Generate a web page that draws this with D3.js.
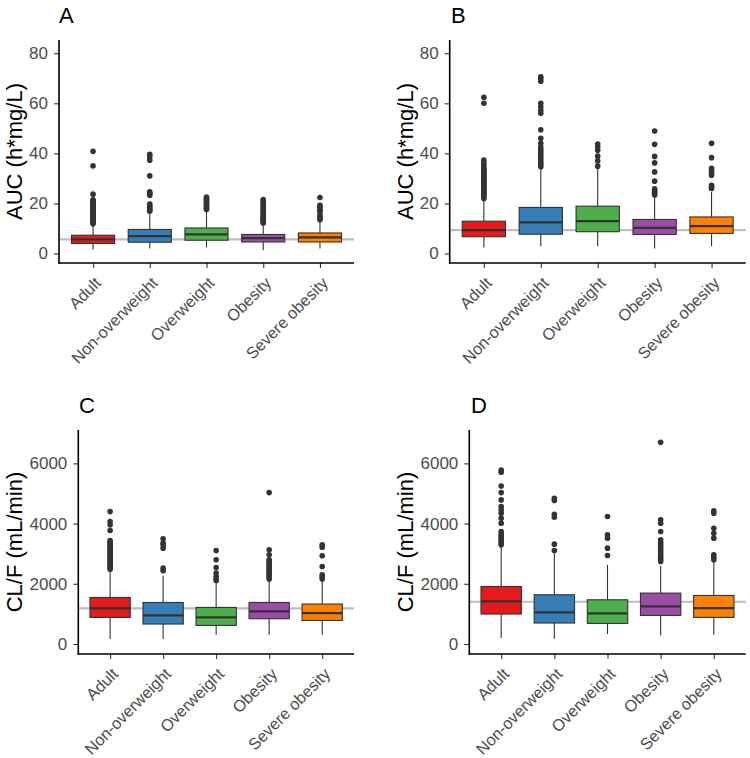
<!DOCTYPE html>
<html>
<head>
<meta charset="utf-8">
<script src="https://cdn.jsdelivr.net/npm/d3@7"></script>
<style>
  body { margin: 0; background: #fff; }
  svg { display: block; font-family: Arial, "Liberation Sans", Helvetica, sans-serif; }
</style>
</head>
<body>
<svg id="chart" width="750" height="758"></svg>
<script>
// ---------------- DATA ----------------
const categories = ["Adult", "Non-overweight", "Overweight", "Obesity", "Severe obesity"];
const groupColors = ["#E41A1C", "#377EB8", "#4DAF4A", "#984EA3", "#FF7F00"];

// box stats per category: [whiskerLow, Q1, median, Q3, whiskerHigh]
const aucA_stats = [
  [1.6, 4.0, 5.6, 7.3, 11.5],
  [2.0, 4.5, 6.9, 9.6, 16.4],
  [2.4, 5.3, 7.6, 10.2, 17.3],
  [1.3, 4.6, 6.1, 7.6, 11.8],
  [2.0, 4.6, 6.4, 8.2, 13.0]
];
const aucA_outliers = [
  [11.9, 12.3, 12.7, 13.1, 13.5, 13.9, 14.3, 14.7, 15.1, 15.5, 15.9, 16.3, 16.7, 17.1, 17.5, 17.9, 18.3, 18.7, 19.1, 19.5, 19.9, 20.3, 20.7, 21.1, 21.5, 23.7, 35.0, 40.8],
  [16.9, 17.4, 17.9, 18.5, 19.2, 19.8, 23.3, 24.0, 24.6, 31.0, 37.3, 38.6, 39.6],
  [17.6, 18.1, 18.6, 19.1, 19.6, 20.1, 20.6, 21.1, 21.6, 22.1, 22.6],
  [12.2, 12.6, 13.0, 13.4, 13.8, 14.2, 14.6, 15.0, 15.6, 16.2, 16.8, 17.4, 18.0, 18.6, 19.2, 19.8, 20.4, 21.0, 21.6],
  [13.5, 14.1, 14.7, 15.3, 16.6, 17.2, 17.9, 18.6, 19.3, 22.4]
];
const aucA_ref = 5.6;

const aucB_stats = [
  [2.4, 6.7, 9.3, 12.9, 21.5],
  [2.9, 7.7, 12.4, 18.4, 34.0],
  [2.9, 8.7, 12.9, 18.9, 34.0],
  [2.0, 7.6, 10.2, 13.6, 22.5],
  [2.9, 8.0, 10.9, 14.6, 24.5]
];
const aucB_outliers = [
  [22.0, 22.5, 23.0, 23.5, 24.0, 24.5, 25.0, 25.5, 26.0, 26.5, 27.0, 27.5, 28.0, 28.5, 29.0, 29.5, 30.0, 30.5, 31.0, 31.5, 32.0, 32.5, 33.0, 33.5, 34.0, 35.0, 36.0, 37.3, 60.0, 62.4],
  [34.7, 35.6, 36.5, 37.6, 38.6, 39.6, 40.6, 41.5, 42.5, 44.0, 46.0, 49.4, 56.0, 57.2, 58.6, 60.0, 68.8, 69.8, 70.6],
  [34.9, 37.0, 38.9, 41.2, 42.6, 43.7],
  [23.4, 24.0, 24.6, 25.2, 25.8, 28.9, 32.6, 36.2, 38.8, 43.6, 48.9],
  [26.0, 26.6, 27.2, 31.3, 32.2, 33.2, 34.0, 38.3, 44.0]
];
const aucB_ref = 9.3;

const clC_stats = [
  [166, 883, 1181, 1546, 2420],
  [166, 663, 949, 1380, 2265],
  [308, 617, 882, 1214, 2043],
  [308, 839, 1081, 1380, 2133],
  [308, 783, 1028, 1327, 2076]
];
const clC_outliers = [
  [2487, 2540, 2590, 2640, 2690, 2740, 2790, 2840, 2890, 2940, 2990, 3040, 3090, 3140, 3190, 3240, 3290, 3340, 3390, 3436, 3768, 3957, 4066, 4398],
  [2431, 2520, 3184, 3300, 3350, 3492],
  [2109, 2160, 2242, 2355, 2541, 2796, 3104],
  [2156, 2210, 2265, 2320, 2375, 2430, 2485, 2540, 2595, 2650, 2705, 2760, 2796, 2962, 3128, 5028],
  [2156, 2230, 2298, 2574, 2929, 3217, 3294]
];
const clC_ref = 1181;

const clD_stats = [
  [199, 995, 1413, 1910, 3237],
  [176, 697, 1049, 1635, 3018],
  [332, 684, 1016, 1469, 2630],
  [285, 949, 1247, 1691, 2597],
  [308, 883, 1194, 1613, 2740]
];
const clD_outliers = [
  [3293, 3350, 3410, 3470, 3530, 3590, 3650, 3735, 4013, 4179, 4345, 4454, 4564, 4786, 5028, 5250, 5705, 5781],
  [3104, 3317, 4212, 4312, 4763, 4843],
  [2939, 3184, 3516, 3625, 4233],
  [2740, 2810, 2880, 2950, 3020, 3090, 3160, 3230, 3300, 3380, 3459, 3735, 4013, 4123, 6700],
  [2796, 2880, 2962, 3516, 3681, 3847, 4345, 4421]
];
const clD_ref = 1403;

const aucTicks = [0, 20, 40, 60, 80];
const clTicks = [0, 2000, 4000, 6000];

// ---------------- LAYOUT ----------------
const panels = [
  { letter: "A", title: "AUC (h*mg/L)", stats: aucA_stats, outliers: aucA_outliers, ref: aucA_ref, ticks: aucTicks,
    left: 59, right: 354, top: 40, bottom: 263, domain: [-3.8, 85.3], titleX: 14, letterX: 59, letterY: 23 },
  { letter: "B", title: "AUC (h*mg/L)", stats: aucB_stats, outliers: aucB_outliers, ref: aucB_ref, ticks: aucTicks,
    left: 449.7, right: 745.7, top: 40, bottom: 263, domain: [-3.8, 85.3], titleX: 405, letterX: 451, letterY: 23 },
  { letter: "C", title: "CL/F (mL/min)", stats: clC_stats, outliers: clC_outliers, ref: clC_ref, ticks: clTicks,
    left: 78.3, right: 354, top: 430, bottom: 654, domain: [-332, 7108], titleX: 14, letterX: 79, letterY: 413 },
  { letter: "D", title: "CL/F (mL/min)", stats: clD_stats, outliers: clD_outliers, ref: clD_ref, ticks: clTicks,
    left: 469.3, right: 745.7, top: 430, bottom: 654, domain: [-332, 7108], titleX: 405, letterX: 471, letterY: 413 }
];

const svg = d3.select("#chart");

panels.forEach(p => {
  const g = svg.append("g");
  const x = d3.scalePoint().domain(categories).range([p.left, p.right]).padding(0.6);
  const y = d3.scaleLinear().domain(p.domain).range([p.bottom, p.top]);
  const bw = x.step() * 0.76;

  // reference line
  g.append("line")
    .attr("x1", p.left).attr("x2", p.right)
    .attr("y1", y(p.ref)).attr("y2", y(p.ref))
    .attr("stroke", "#bebebe").attr("stroke-width", 2.2);

  categories.forEach((c, i) => {
    const [lo, q1, med, q3, hi] = p.stats[i];
    const cx = x(c);
    const bg = g.append("g");
    bg.append("line").attr("x1", cx).attr("x2", cx).attr("y1", y(q3)).attr("y2", y(hi))
      .attr("stroke", "#333").attr("stroke-width", 1.1);
    bg.append("line").attr("x1", cx).attr("x2", cx).attr("y1", y(q1)).attr("y2", y(lo))
      .attr("stroke", "#333").attr("stroke-width", 1.1);
    bg.append("rect")
      .attr("x", cx - bw / 2).attr("width", bw)
      .attr("y", y(q3)).attr("height", y(q1) - y(q3))
      .attr("fill", groupColors[i]).attr("stroke", "#333").attr("stroke-width", 1.1);
    bg.append("line").attr("x1", cx - bw / 2).attr("x2", cx + bw / 2)
      .attr("y1", y(med)).attr("y2", y(med))
      .attr("stroke", "#333").attr("stroke-width", 2.2);
    bg.selectAll("circle.out").data(p.outliers[i]).enter().append("circle")
      .attr("class", "out")
      .attr("cx", cx).attr("cy", d => y(d)).attr("r", 2.8)
      .attr("fill", "#333");
  });

  // y axis
  const yAxis = d3.axisLeft(y).tickValues(p.ticks).tickSize(5).tickPadding(6).tickFormat(d3.format("d"));
  const ya = g.append("g").attr("transform", `translate(${p.left},0)`).call(yAxis);
  ya.select(".domain").remove();
  ya.selectAll(".tick line").attr("stroke", "#333").attr("stroke-width", 1.1);
  ya.selectAll(".tick text").attr("fill", "#4d4d4d").style("font-size", "17px")
    .style("font-family", "Arial, 'Liberation Sans', sans-serif");

  // x axis
  const xAxis = d3.axisBottom(x).tickSize(5).tickFormat(() => "");
  const xa = g.append("g").attr("transform", `translate(0,${p.bottom})`).call(xAxis);
  xa.select(".domain").remove();
  xa.selectAll(".tick line").attr("stroke", "#333").attr("stroke-width", 1.1);

  g.selectAll("text.xlab").data(categories).enter().append("text")
    .attr("class", "xlab")
    .attr("transform", d => `translate(${x(d) + 9},${p.bottom + 21}) rotate(-45)`)
    .attr("text-anchor", "end")
    .attr("fill", "#4d4d4d")
    .style("font-size", "16.3px")
    .text(d => d);

  // axis lines
  g.append("line").attr("x1", p.left).attr("x2", p.left).attr("y1", p.top).attr("y2", p.bottom + 0.75)
    .attr("stroke", "#000").attr("stroke-width", 1.6);
  g.append("line").attr("x1", p.left - 0.75).attr("x2", p.right).attr("y1", p.bottom).attr("y2", p.bottom)
    .attr("stroke", "#000").attr("stroke-width", 1.6);

  // y title
  g.append("text")
    .attr("transform", `translate(${p.titleX + 8},${(p.top + p.bottom) / 2}) rotate(-90)`)
    .attr("text-anchor", "middle")
    .attr("fill", "#000")
    .style("font-size", "22px")
    .text(p.title);

  // panel letter
  g.append("text")
    .attr("x", p.letterX).attr("y", p.letterY)
    .attr("fill", "#000")
    .style("font-size", "22px")
    .text(p.letter);
});
</script>
</body>
</html>
